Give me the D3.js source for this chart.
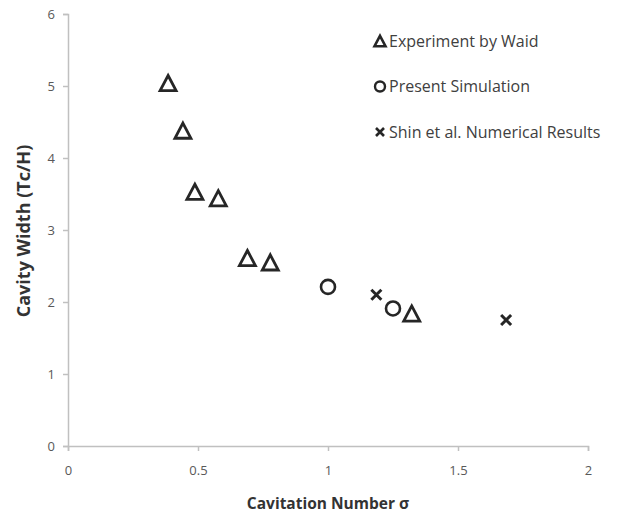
<!DOCTYPE html>
<html>
<head>
<meta charset="utf-8">
<script src="https://cdn.jsdelivr.net/npm/d3@7"></script>
<style>
  html, body { margin: 0; padding: 0; background: #fff; }
  svg { display: block; }
  text { font-family: "Open Sans", Lato, sans-serif; }
</style>
</head>
<body>
<svg id="chart" width="618" height="515"></svg>
<script>
// Cavity width vs. cavitation number
const waidSigma = [0.385, 0.442, 0.488, 0.578, 0.69, 0.778, 1.322];
const waidWidth = [5.04, 4.38, 3.53, 3.44, 2.61, 2.55, 1.84];

const simSigma = [1.0, 1.25];
const simWidth = [2.21, 1.91];

const shinSigma = [1.186, 1.685];
const shinWidth = [2.10, 1.75];

const xTicks = [0, 0.5, 1, 1.5, 2];
const yTicks = [0, 1, 2, 3, 4, 5, 6];

const legendLabels = ["Experiment by Waid", "Present Simulation", "Shin et al. Numerical Results"];

const svg = d3.select("#chart");
const margin = { left: 68, right: 30, top: 14, bottom: 69 };
const W = 618, H = 515;

const x = d3.scaleLinear().domain([0, 2]).range([margin.left, W - margin.right]);
const y = d3.scaleLinear().domain([0, 6]).range([H - margin.bottom, margin.top]);

const axisColor = "#c0c0c0";
const labelColor = "#595959";
const markColor = "#262626";
const fontStack = "'Open Sans', Lato, sans-serif";

// axes
const xAxis = svg.append("g")
  .attr("transform", `translate(0,${y(0)})`)
  .call(d3.axisBottom(x).tickValues(xTicks).tickSize(5).tickPadding(15)
    .tickFormat(d => String(d)));
const yAxis = svg.append("g")
  .attr("transform", `translate(${x(0)},0)`)
  .call(d3.axisLeft(y).tickValues(yTicks).tickSize(5).tickPadding(8)
    .tickFormat(d => String(d)));

[xAxis, yAxis].forEach(g => {
  g.select(".domain").attr("stroke", axisColor).attr("stroke-width", 1.5);
  g.selectAll(".tick line").attr("stroke", axisColor).attr("stroke-width", 1.5);
  g.selectAll(".tick text").attr("fill", labelColor).attr("font-size", 13)
    .style("font-family", fontStack);
});

// axis titles
svg.append("text")
  .attr("x", x(1)).attr("y", 509)
  .attr("text-anchor", "middle")
  .attr("font-size", 15.5).attr("font-weight", "bold").attr("fill", "#333")
  .text("Cavitation Number σ");
svg.append("text")
  .attr("transform", `translate(30,${y(3) + 1}) rotate(-90)`)
  .attr("text-anchor", "middle")
  .attr("font-size", 18).attr("font-weight", "bold").attr("fill", "#333")
  .text("Cavity Width (Tc/H)");

// marker shapes
function trianglePath(cx, cy, s) {
  const p = d3.path();
  const h = s * 0.95;
  p.moveTo(cx, cy - h / 2);
  p.lineTo(cx + s / 2, cy + h / 2);
  p.lineTo(cx - s / 2, cy + h / 2);
  p.closePath();
  return p.toString();
}
function crossPath(cx, cy, s) {
  const p = d3.path();
  const r = s / 2;
  p.moveTo(cx - r, cy - r); p.lineTo(cx + r, cy + r);
  p.moveTo(cx + r, cy - r); p.lineTo(cx - r, cy + r);
  return p.toString();
}

const waid = waidSigma.map((s, i) => ({ s, w: waidWidth[i] }));
const sim = simSigma.map((s, i) => ({ s, w: simWidth[i] }));
const shin = shinSigma.map((s, i) => ({ s, w: shinWidth[i] }));

svg.append("g").selectAll("path").data(waid).join("path")
  .attr("d", d => trianglePath(x(d.s), y(d.w), 16))
  .attr("fill", "none").attr("stroke", markColor).attr("stroke-width", 2.8)
  .attr("stroke-linejoin", "miter");

svg.append("g").selectAll("circle").data(sim).join("circle")
  .attr("cx", d => x(d.s)).attr("cy", d => y(d.w)).attr("r", 7)
  .attr("fill", "none").attr("stroke", markColor).attr("stroke-width", 2.6);

svg.append("g").selectAll("path").data(shin).join("path")
  .attr("d", d => crossPath(x(d.s), y(d.w), 10))
  .attr("fill", "none").attr("stroke", markColor).attr("stroke-width", 3);

// legend
const legend = svg.append("g").attr("transform", "translate(380,41)");
const rowGap = 45.5;
legend.append("path").attr("d", trianglePath(0, 0, 11))
  .attr("fill", "none").attr("stroke", markColor).attr("stroke-width", 2.6);
legend.append("circle").attr("cx", 0).attr("cy", rowGap).attr("r", 5)
  .attr("fill", "none").attr("stroke", markColor).attr("stroke-width", 2.4);
legend.append("path").attr("d", crossPath(0, rowGap * 2, 8))
  .attr("fill", "none").attr("stroke", markColor).attr("stroke-width", 2.6);
legend.selectAll("text.lbl").data(legendLabels).join("text")
  .attr("class", "lbl")
  .attr("x", 9).attr("y", (d, i) => i * rowGap + 5.5)
  .attr("font-size", 16).attr("fill", "#404040")
  .text(d => d);
</script>
</body>
</html>
